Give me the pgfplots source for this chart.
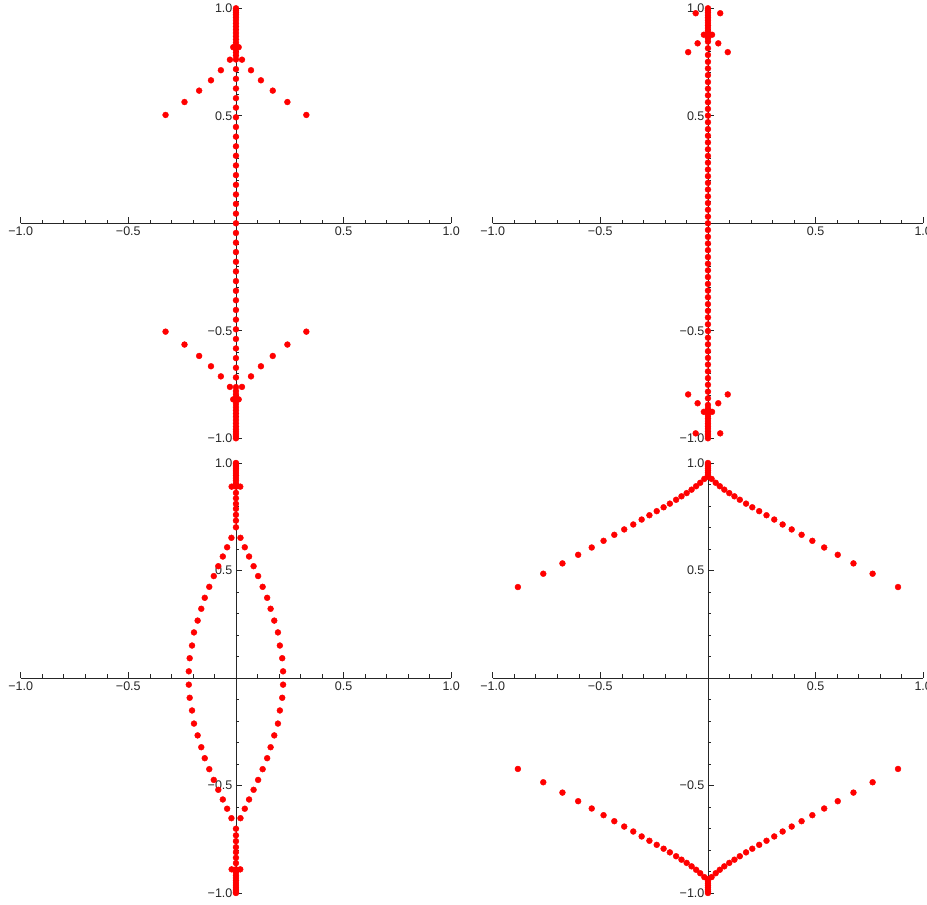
\documentclass[border=0pt]{standalone}
\usepackage{pgfplots}
\pgfplotsset{compat=1.18}
\usepackage{fontspec}
\setmainfont{Liberation Sans}

\pgfplotsset{
  panel/.style={
    scale only axis, width=430.5pt, height=430pt,
    anchor=south west,
    xmin=-1, xmax=1, ymin=-1, ymax=1,
    axis lines=middle,
    axis line style={-, black!85, line width=0.7pt},
    axis on top,
    xtick={-1,-0.5,0.5,1}, ytick={-1,-0.5,0.5,1},
    xticklabels={−1.0,−0.5,0.5,1.0},
    yticklabels={−1.0,−0.5,0.5,1.0},
    minor xtick={-0.9,-0.8,-0.7,-0.6,-0.4,-0.3,-0.2,-0.1,0.1,0.2,0.3,0.4,0.6,0.7,0.8,0.9},
    minor ytick={-0.9,-0.8,-0.7,-0.6,-0.4,-0.3,-0.2,-0.1,0.1,0.2,0.3,0.4,0.6,0.7,0.8,0.9},
    tick align=inside,
    major tick length=6pt, minor tick length=3.5pt,
    tick style={black!85, line width=0.6pt},
    ticklabel style={font=\fontsize{12.5}{14}\selectfont, text=black!85},
  },
  dots/.style={only marks, mark=*, mark size=2.95pt, color=red, mark options={draw=red, fill=red}},
}

\begin{document}
\begin{tikzpicture}
\path[use as bounding box] (0,0) rectangle (927pt,905pt);

% ---------- top left ----------
\begin{axis}[panel, at={(20.7pt,466.7pt)}]
\addplot[dots] coordinates {
 (0,0)
 (0,0.045) (0,0.090) (0,0.134) (0,0.179) (0,0.224) (0,0.269) (0,0.314) (0,0.358) (0,0.403)
 (0,0.448) (0,0.493) (0,0.538) (0,0.582) (0,0.627) (0,0.672) (0,0.717) (0,0.762)
 (0,-0.045) (0,-0.090) (0,-0.134) (0,-0.179) (0,-0.224) (0,-0.269) (0,-0.314) (0,-0.358) (0,-0.403)
 (0,-0.448) (0,-0.493) (0,-0.538) (0,-0.582) (0,-0.627) (0,-0.672) (0,-0.717) (0,-0.762)
 (0,0.780) (0,0.795) (0,0.810) (0,0.825) (0,0.840) (0,0.855) (0,0.870) (0,0.885) (0,0.900)
 (0,0.915) (0,0.930) (0,0.945) (0,0.958) (0,0.970) (0,0.980) (0,0.990) (0,1.000)
 (0,-0.780) (0,-0.795) (0,-0.810) (0,-0.825) (0,-0.840) (0,-0.855) (0,-0.870) (0,-0.885) (0,-0.900)
 (0,-0.915) (0,-0.930) (0,-0.945) (0,-0.958) (0,-0.970) (0,-0.980) (0,-0.990) (0,-1.000)
 (-0.327,0.504) (-0.239,0.564) (-0.171,0.617) (-0.116,0.665) (-0.070,0.712) (-0.028,0.761) (-0.0126,0.819)
 (0.327,0.504) (0.239,0.564) (0.171,0.617) (0.116,0.665) (0.070,0.712) (0.028,0.761) (0.0126,0.819)
 (-0.327,-0.504) (-0.239,-0.564) (-0.171,-0.617) (-0.116,-0.665) (-0.070,-0.712) (-0.028,-0.761) (-0.0126,-0.819)
 (0.327,-0.504) (0.239,-0.564) (0.171,-0.617) (0.116,-0.665) (0.070,-0.712) (0.028,-0.761) (0.0126,-0.819)
};
\end{axis}

% ---------- top right ----------
\begin{axis}[panel, at={(492.7pt,466.7pt)}]
\addplot[dots] coordinates {
 (0,0)
 (0,0.031) (0,0.063) (0,0.094) (0,0.125) (0,0.157) (0,0.188) (0,0.219) (0,0.250) (0,0.282)
 (0,0.313) (0,0.344) (0,0.376) (0,0.407) (0,0.438) (0,0.470) (0,0.501) (0,0.532) (0,0.563)
 (0,0.595) (0,0.626) (0,0.657) (0,0.689) (0,0.720) (0,0.751) (0,0.783) (0,0.814) (0,0.845)
 (0,-0.031) (0,-0.063) (0,-0.094) (0,-0.125) (0,-0.157) (0,-0.188) (0,-0.219) (0,-0.250) (0,-0.282)
 (0,-0.313) (0,-0.344) (0,-0.376) (0,-0.407) (0,-0.438) (0,-0.470) (0,-0.501) (0,-0.532) (0,-0.563)
 (0,-0.595) (0,-0.626) (0,-0.657) (0,-0.689) (0,-0.720) (0,-0.751) (0,-0.783) (0,-0.814) (0,-0.845)
 (0,0.860) (0,0.872) (0,0.884) (0,0.896) (0,0.908) (0,0.920) (0,0.932) (0,0.944) (0,0.956)
 (0,0.968) (0,0.980) (0,0.990) (0,1.000)
 (0,-0.860) (0,-0.872) (0,-0.884) (0,-0.896) (0,-0.908) (0,-0.920) (0,-0.932) (0,-0.944) (0,-0.956)
 (0,-0.968) (0,-0.980) (0,-0.990) (0,-1.000)
 (-0.057,0.977) (0.057,0.977) (-0.019,0.877) (0.019,0.877)
 (-0.048,0.837) (0.048,0.837) (-0.092,0.796) (0.092,0.796)
 (-0.057,-0.977) (0.057,-0.977) (-0.019,-0.877) (0.019,-0.877)
 (-0.048,-0.837) (0.048,-0.837) (-0.092,-0.796) (0.092,-0.796)
};
\end{axis}

% ---------- bottom left ----------
\begin{axis}[panel, at={(20.7pt,12pt)}]
\addplot[dots] coordinates {
 (0,0.701) (0,0.732) (0,0.759) (0,0.787) (0,0.810) (0,0.836) (0,0.861) (0,0.890) (0,0.905)
 (0,0.918) (0,0.930) (0,0.942) (0,0.953) (0,0.963) (0,0.973) (0,0.982) (0,0.990) (0,0.997) (0,1.000)
 (0,-0.701) (0,-0.732) (0,-0.759) (0,-0.787) (0,-0.810) (0,-0.836) (0,-0.861) (0,-0.890) (0,-0.905)
 (0,-0.918) (0,-0.930) (0,-0.942) (0,-0.953) (0,-0.963) (0,-0.973) (0,-0.982) (0,-0.990) (0,-0.997) (0,-1.000)
 (-0.020,0.890) (0.020,0.890) (-0.020,-0.890) (0.020,-0.890)
 (-0.021,0.652) (-0.041,0.608) (-0.061,0.565) (-0.082,0.520) (-0.103,0.474) (-0.124,0.424) (-0.145,0.373)
 (-0.161,0.322) (-0.178,0.267) (-0.195,0.212) (-0.204,0.151) (-0.215,0.092) (-0.219,0.031)
 (0.021,0.652) (0.041,0.608) (0.061,0.565) (0.082,0.520) (0.103,0.474) (0.124,0.424) (0.145,0.373)
 (0.161,0.322) (0.178,0.267) (0.195,0.212) (0.204,0.151) (0.215,0.092) (0.219,0.031)
 (-0.021,-0.652) (-0.041,-0.608) (-0.061,-0.565) (-0.082,-0.520) (-0.103,-0.474) (-0.124,-0.424) (-0.145,-0.373)
 (-0.161,-0.322) (-0.178,-0.267) (-0.195,-0.212) (-0.204,-0.151) (-0.215,-0.092) (-0.219,-0.031)
 (0.021,-0.652) (0.041,-0.608) (0.061,-0.565) (0.082,-0.520) (0.103,-0.474) (0.124,-0.424) (0.145,-0.373)
 (0.161,-0.322) (0.178,-0.267) (0.195,-0.212) (0.204,-0.151) (0.215,-0.092) (0.219,-0.031)
};
\end{axis}

% ---------- bottom right ----------
\begin{axis}[panel, at={(492.7pt,12pt)}]
\addplot[dots] coordinates {
 (0,0.935) (0,0.945) (0,0.955) (0,0.965) (0,0.975) (0,0.985) (0,0.993) (0,1.000)
 (0,-0.935) (0,-0.945) (0,-0.955) (0,-0.965) (0,-0.975) (0,-0.985) (0,-0.993) (0,-1.000)
 (0.017,0.926) (0.036,0.908) (0.055,0.892) (0.076,0.876) (0.099,0.860) (0.123,0.845) (0.148,0.829)
 (0.177,0.811) (0.206,0.794) (0.238,0.776) (0.272,0.757) (0.308,0.737) (0.347,0.714) (0.389,0.691)
 (0.435,0.666) (0.485,0.638) (0.540,0.607) (0.603,0.573) (0.676,0.533) (0.765,0.485) (0.883,0.423)
 (-0.017,0.926) (-0.036,0.908) (-0.055,0.892) (-0.076,0.876) (-0.099,0.860) (-0.123,0.845) (-0.148,0.829)
 (-0.177,0.811) (-0.206,0.794) (-0.238,0.776) (-0.272,0.757) (-0.308,0.737) (-0.347,0.714) (-0.389,0.691)
 (-0.435,0.666) (-0.485,0.638) (-0.540,0.607) (-0.603,0.573) (-0.676,0.533) (-0.765,0.485) (-0.883,0.423)
 (0.017,-0.926) (0.036,-0.908) (0.055,-0.892) (0.076,-0.876) (0.099,-0.860) (0.123,-0.845) (0.148,-0.829)
 (0.177,-0.811) (0.206,-0.794) (0.238,-0.776) (0.272,-0.757) (0.308,-0.737) (0.347,-0.714) (0.389,-0.691)
 (0.435,-0.666) (0.485,-0.638) (0.540,-0.607) (0.603,-0.573) (0.676,-0.533) (0.765,-0.485) (0.883,-0.423)
 (-0.017,-0.926) (-0.036,-0.908) (-0.055,-0.892) (-0.076,-0.876) (-0.099,-0.860) (-0.123,-0.845) (-0.148,-0.829)
 (-0.177,-0.811) (-0.206,-0.794) (-0.238,-0.776) (-0.272,-0.757) (-0.308,-0.737) (-0.347,-0.714) (-0.389,-0.691)
 (-0.435,-0.666) (-0.485,-0.638) (-0.540,-0.607) (-0.603,-0.573) (-0.676,-0.533) (-0.765,-0.485) (-0.883,-0.423)
};
\end{axis}
\end{tikzpicture}
\end{document}
